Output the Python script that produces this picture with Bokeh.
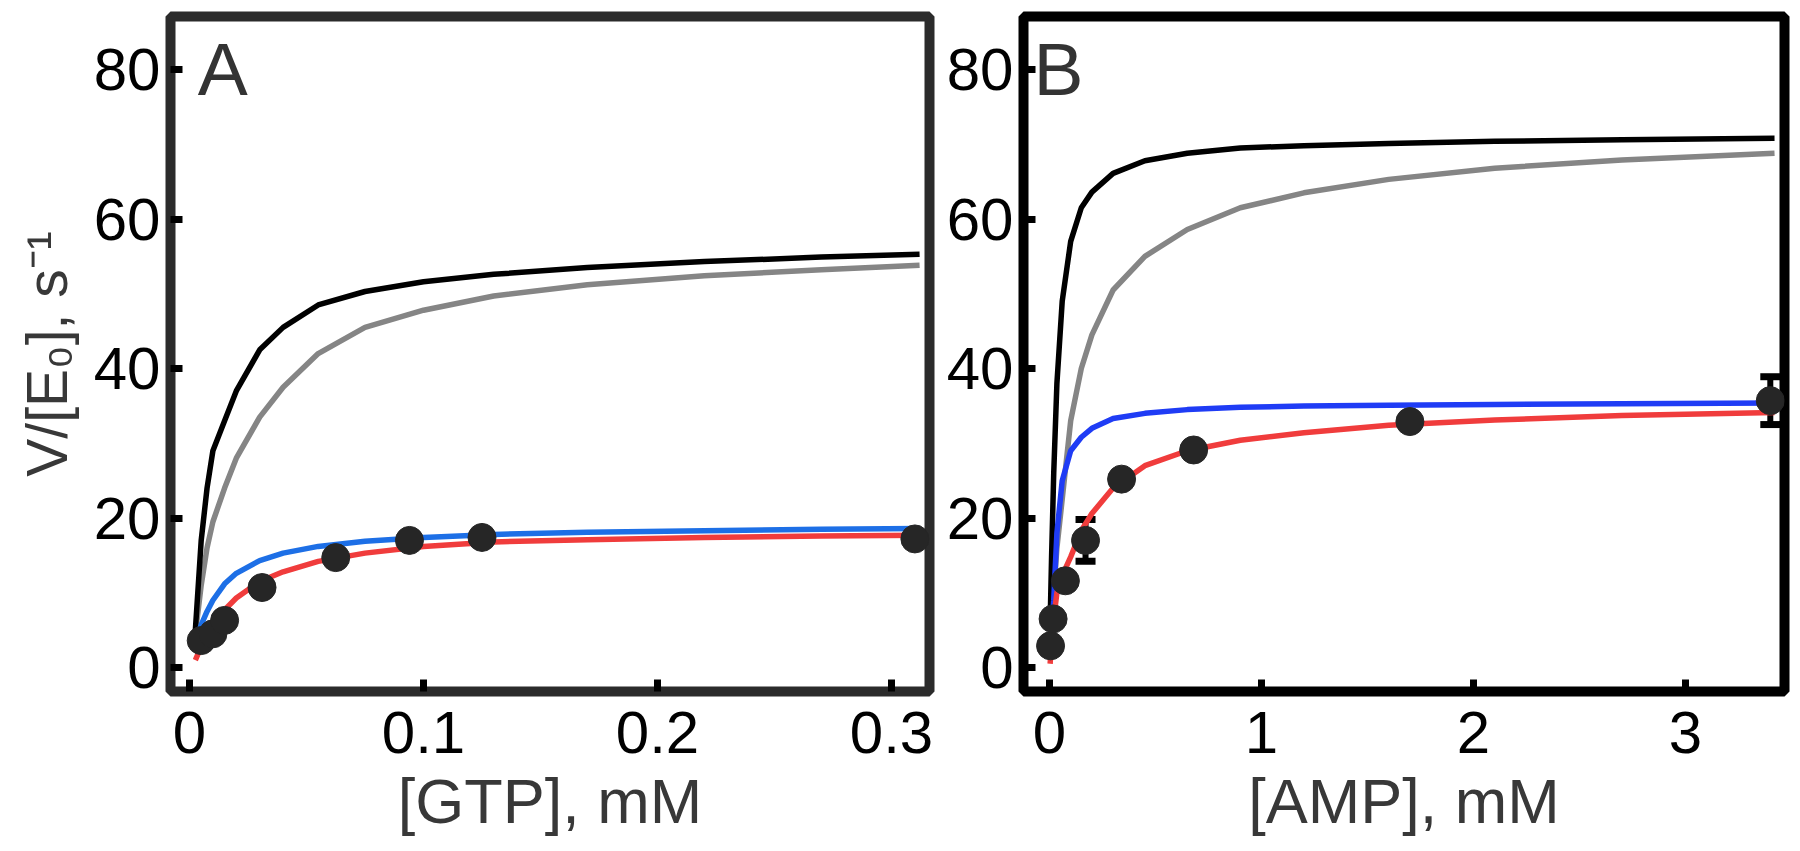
from bokeh.plotting import figure
from bokeh.layouts import row
from bokeh.models import Range1d, FixedTicker, Label, ColumnDataSource, Whisker, TeeHead
from bokeh.embed import file_html
from bokeh.resources import INLINE

# ---------------- data: panel A (GTP) ----------------
gtp_x = [0.005, 0.01, 0.015, 0.031, 0.0625, 0.094, 0.125, 0.31]
gtp_v = [3.6, 4.5, 6.3, 10.7, 14.7, 17.0, 17.4, 17.2]

curveA_x = [0.0025, 0.005, 0.0075, 0.01, 0.015, 0.02, 0.03, 0.04, 0.055, 0.075,
            0.1, 0.13, 0.17, 0.22, 0.27, 0.312]
curveA_black = [5.0, 17.0, 24.0, 29.0, 33.0, 37.0, 42.5, 45.5, 48.5, 50.3,
                51.6, 52.6, 53.5, 54.3, 54.9, 55.3]
curveA_gray = [4.5, 11.0, 16.0, 19.5, 24.0, 28.0, 33.5, 37.5, 42.0, 45.5,
               47.8, 49.7, 51.2, 52.4, 53.2, 53.8]
curveA_blue = [3.5, 5.7, 7.5, 9.0, 11.2, 12.6, 14.3, 15.3, 16.2, 16.9,
               17.4, 17.8, 18.1, 18.3, 18.5, 18.6]
curveA_red = [1.0, 2.8, 4.3, 5.6, 7.7, 9.3, 11.5, 12.8, 14.2, 15.3,
              16.2, 16.8, 17.1, 17.4, 17.6, 17.7]

# ---------------- data: panel B (AMP) ----------------
amp_x = [0.005, 0.017, 0.075, 0.17, 0.34, 0.68, 1.7, 3.4]
amp_v = [2.9, 6.5, 11.6, 17.0, 25.2, 29.1, 32.9, 35.7]
amp_err = [0.0, 0.0, 0.0, 2.8, 0.0, 0.0, 0.0, 3.2]

curveB_x = [0.003, 0.01, 0.02, 0.035, 0.06, 0.1, 0.15, 0.2, 0.3, 0.45, 0.65,
            0.9, 1.2, 1.6, 2.1, 2.7, 3.42]
curveB_black = [6.0, 15.0, 26.0, 38.0, 49.0, 57.0, 61.5, 63.6, 66.1, 67.8, 68.8,
                69.5, 69.8, 70.1, 70.4, 70.6, 70.8]
curveB_gray = [3.0, 6.0, 10.0, 16.0, 22.5, 33.0, 40.0, 44.5, 50.5, 55.0, 58.6,
               61.5, 63.5, 65.3, 66.8, 67.9, 68.8]
curveB_blue = [2.0, 5.0, 9.0, 18.0, 25.0, 29.0, 30.8, 32.0, 33.3, 34.0, 34.5,
               34.8, 35.0, 35.1, 35.2, 35.3, 35.4]
curveB_red = [0.5, 3.5, 6.5, 10.0, 12.3, 14.8, 18.3, 20.6, 24.0, 27.0, 29.0,
              30.4, 31.4, 32.4, 33.1, 33.7, 34.1]

# ticks
y_ticks = [0, 20, 40, 60, 80]
xA_ticks = [0, 0.1, 0.2, 0.3]
xA_labels = ["0", "0.1", "0.2", "0.3"]
xB_ticks = [0, 1, 2, 3]

FONT = "Liberation Sans"
C_BLACK = "#000000"
C_GRAY = "#858585"
C_BLUE_A = "#1d6fe6"
C_BLUE_B = "#1f3cf5"
C_RED = "#f03c3c"
C_PT = "#262626"


def style(p, frame_color, ylabel):
    p.outline_line_color = frame_color
    p.outline_line_width = 10
    p.background_fill_color = "white"
    p.border_fill_color = "white"
    p.xgrid.visible = False
    p.ygrid.visible = False
    for ax in (p.xaxis[0], p.yaxis[0]):
        ax.axis_line_color = None
        ax.major_tick_in = 12
        ax.major_tick_out = 0
        ax.major_tick_line_width = 7
        ax.major_tick_line_color = "#000000"
        ax.minor_tick_line_color = None
        ax.major_label_text_font = FONT
        ax.major_label_text_font_size = "60px"
        ax.major_label_text_color = "#000000"
        ax.axis_label_text_font = FONT
        ax.axis_label_text_font_size = "63px"
        ax.axis_label_text_font_style = "normal"
        ax.axis_label_text_color = "#383838"
        ax.major_label_standoff = 10
        ax.axis_label_standoff = 8
    p.xaxis[0].major_label_standoff = 20
    p.xaxis[0].axis_label_standoff = 10
    p.yaxis[0].axis_label_text_font_size = "57px"
    p.yaxis[0].axis_label_standoff = 12
    p.yaxis[0].ticker = FixedTicker(ticks=y_ticks)
    p.yaxis[0].axis_label = ylabel


# ---------------- panel A ----------------
pA = figure(frame_width=759, frame_height=675, output_backend="svg",
            toolbar_location=None, min_border_left=170, min_border_right=10,
            min_border_top=16, min_border_bottom=140,
            x_range=Range1d(-0.00812, 0.31624), y_range=Range1d(-3.21, 87.09))
style(pA, "#2b2b2b", "V/[E\u2080], s\u207b\u00b9")
pA.xaxis[0].ticker = FixedTicker(ticks=xA_ticks)
pA.xaxis[0].major_label_overrides = {t: l for t, l in zip(xA_ticks, xA_labels)}
pA.xaxis[0].axis_label = "[GTP], mM"

pA.line(curveA_x, curveA_gray, line_color=C_GRAY, line_width=5.5)
pA.line(curveA_x, curveA_black, line_color=C_BLACK, line_width=5.5)
pA.line(curveA_x, curveA_blue, line_color=C_BLUE_A, line_width=5.5)
pA.line(curveA_x, curveA_red, line_color=C_RED, line_width=5.5)
pA.scatter(gtp_x, gtp_v, size=28, fill_color=C_PT, line_color=C_PT)
pA.add_layout(Label(x=0.0035, y=80.0, text="A", text_font=FONT,
                    text_font_size="75px", text_color="#333333",
                    text_baseline="alphabetic"))

# ---------------- panel B ----------------
pB = figure(frame_width=761, frame_height=675, output_backend="svg",
            toolbar_location=None, min_border_left=84, min_border_right=8,
            min_border_top=16, min_border_bottom=140,
            x_range=Range1d(-0.1226, 3.467), y_range=Range1d(-3.21, 87.09))
style(pB, "#000000", "")
pB.xaxis[0].ticker = FixedTicker(ticks=xB_ticks)
pB.xaxis[0].axis_label = "[AMP], mM"

pB.line(curveB_x, curveB_gray, line_color=C_GRAY, line_width=5.5)
pB.line(curveB_x, curveB_black, line_color=C_BLACK, line_width=5.5)
pB.line(curveB_x, curveB_blue, line_color=C_BLUE_B, line_width=5.5)
pB.line(curveB_x, curveB_red, line_color=C_RED, line_width=5.5)

ex = [x for x, e in zip(amp_x, amp_err) if e > 0]
ev = [v for v, e in zip(amp_v, amp_err) if e > 0]
ee = [e for e in amp_err if e > 0]
src = ColumnDataSource(dict(x=ex, lo=[v - e for v, e in zip(ev, ee)],
                            hi=[v + e for v, e in zip(ev, ee)]))
pB.add_layout(Whisker(source=src, base="x", lower="lo", upper="hi",
                      dimension="height", line_color="#000000", line_width=6,
                      upper_head=TeeHead(size=20, line_width=7, line_color="#000000"),
                      lower_head=TeeHead(size=20, line_width=7, line_color="#000000")))
pB.scatter(amp_x, amp_v, size=28, fill_color=C_PT, line_color=C_PT)
pB.add_layout(Label(x=-0.075, y=80.0, text="B", text_font=FONT,
                    text_font_size="75px", text_color="#333333",
                    text_baseline="alphabetic"))

layout = row(pA, pB)
open("out.html", "w").write(file_html(layout, INLINE))
